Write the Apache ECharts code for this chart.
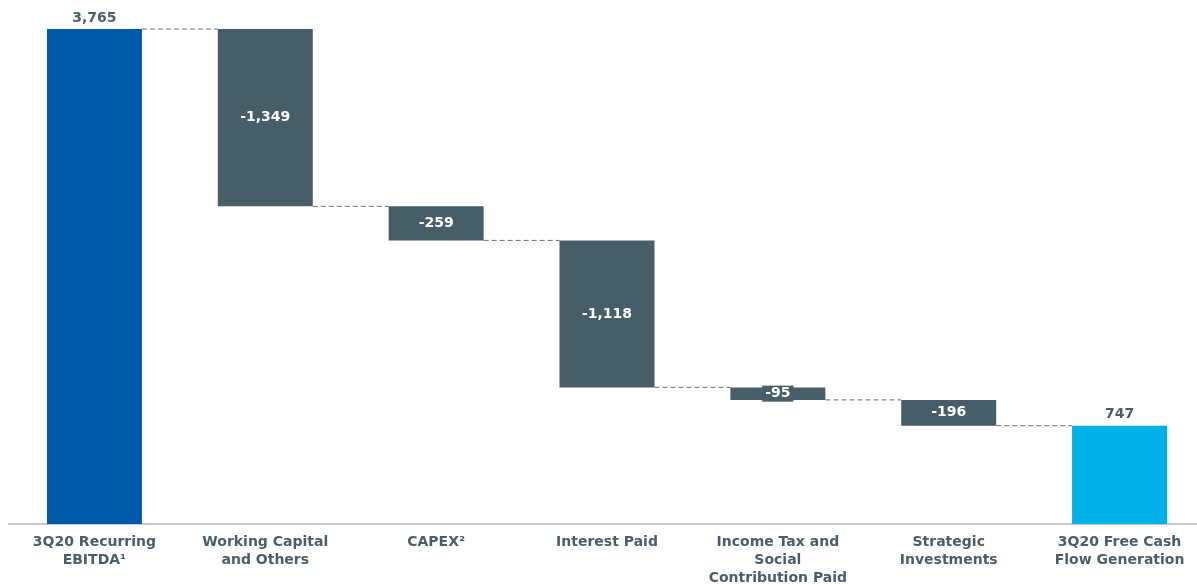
<!DOCTYPE html>
<html>
<head>
<meta charset="utf-8">
<script src="https://cdn.jsdelivr.net/npm/echarts@6/dist/echarts.min.js"></script>
<style>html,body{margin:0;padding:0;background:#fff;}#c{width:1197px;height:585px;}</style>
</head>
<body>
<div id="c"></div>
<script>
const categories = ["3Q20 Recurring\nEBITDA\u00B9", "Working Capital\nand Others", "CAPEX\u00B2", "Interest Paid", "Income Tax and\nSocial\nContribution Paid", "Strategic\nInvestments", "3Q20 Free Cash\nFlow Generation"];
const values = [3765, -1349, -259, -1118, -95, -196, 747];
const kinds = ["total", "delta", "delta", "delta", "delta", "delta", "total"];

const colTotalStart = "#005AA9", colDelta = "#475E69", colTotalEnd = "#00B0E8", textCol = "#4A5E6A";

// compute bases and heights
const bases = [], heights = [], levels = [];
let running = 0;
values.forEach((v, i) => {
  if (kinds[i] === "total") {
    bases.push(0); heights.push(v); running = v;
  } else {
    const next = running + v;
    bases.push(Math.min(running, next)); heights.push(Math.abs(v)); running = next;
  }
  levels.push(kinds[i] === "total" ? v : running);
});
const fmt = v => (v < 0 ? "-" : "") + Math.abs(v).toLocaleString("en-US");

const barW = 95;
const chart = echarts.init(document.getElementById('c'));
chart.setOption({
  animation: false,
  grid: { left: 9, right: -8, top: 29, bottom: 61, containLabel: false, outerBoundsMode: 'none' },
  xAxis: {
    type: 'category', data: categories,
    axisLine: { lineStyle: { color: '#C8C8C8', width: 2 } },
    axisTick: { show: false },
    axisLabel: { interval: 0, color: textCol, fontFamily: 'DejaVu Sans', fontWeight: 'bold', fontSize: 14, lineHeight: 18, margin: 9 }
  },
  yAxis: { type: 'value', min: 0, max: 3765, show: false, splitLine: { show: false } },
  series: [
    { type: 'bar', stack: 'w', data: bases, barWidth: barW, itemStyle: { color: 'transparent' }, silent: true },
    {
      type: 'bar', stack: 'w', barWidth: barW,
      data: heights.map((h, i) => ({
        value: h,
        itemStyle: { color: i === 0 ? colTotalStart : (i === values.length - 1 ? colTotalEnd : colDelta) },
        label: kinds[i] === 'total'
          ? { show: true, position: 'top', distance: 4, color: textCol, formatter: fmt(values[i]) }
          : { show: true, position: 'inside', color: '#fff', backgroundColor: colDelta, padding: [1, 3], formatter: fmt(values[i]) }
      })),
      label: { fontFamily: 'DejaVu Sans', fontWeight: 'bold', fontSize: 14 }
    },
    {
      type: 'custom',
      data: levels.slice(0, -1).map((l, i) => [i, l]),
      renderItem: function (params, api) {
        const i = api.value(0), lvl = api.value(1);
        const p1 = api.coord([i, lvl]), p2 = api.coord([i + 1, lvl]);
        return {
          type: 'line',
          shape: { x1: p1[0] + barW / 2, y1: p1[1], x2: p2[0] - barW / 2, y2: p2[1] },
          style: { stroke: '#6F6F6F', lineWidth: 1, lineDash: [5, 3] }
        };
      },
      z: 1, silent: true
    }
  ]
});
</script>
</body>
</html>
